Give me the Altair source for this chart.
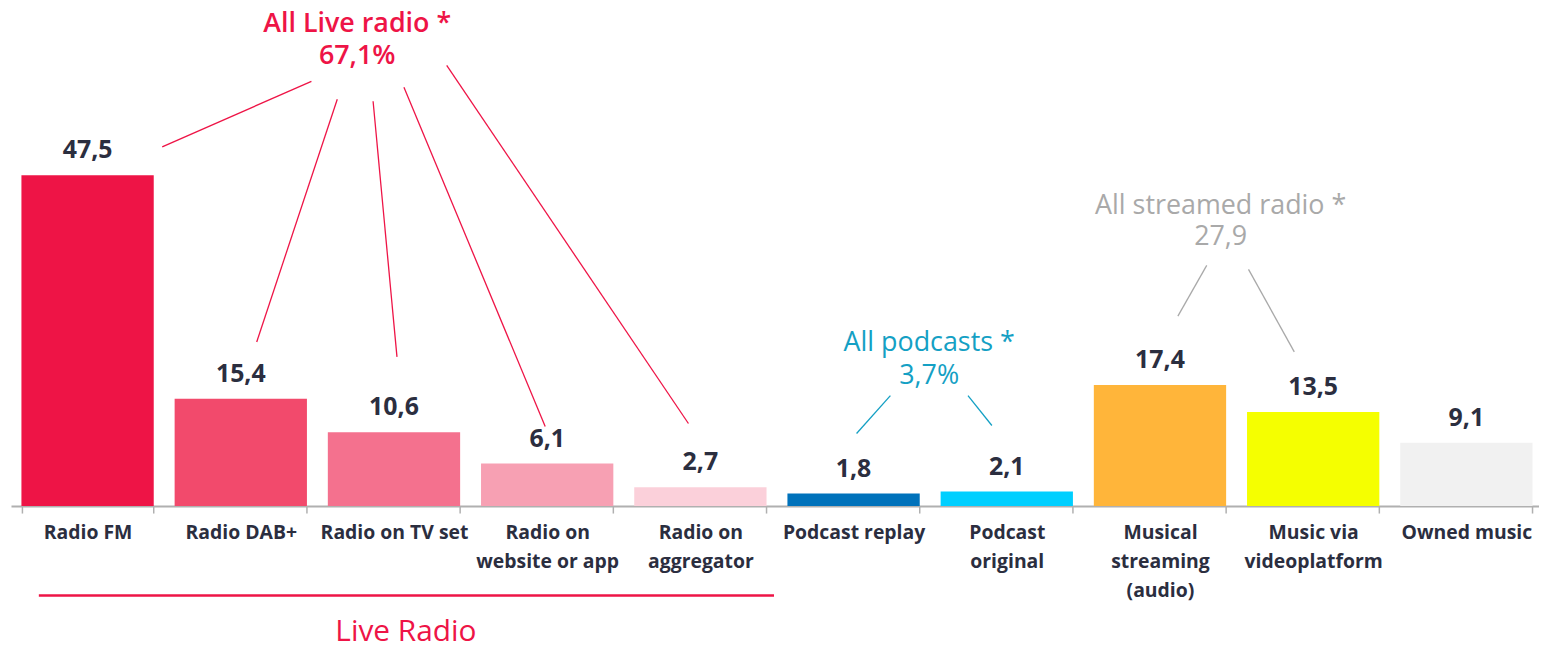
import altair as alt
import pandas as pd

# ---- data ----
categories = ["Radio FM", "Radio DAB+", "Radio on TV set", "Radio on|website or app",
              "Radio on|aggregator", "Podcast replay", "Podcast|original",
              "Musical|streaming|(audio)", "Music via|videoplatform", "Owned music"]
values = [47.5, 15.4, 10.6, 6.1, 2.7, 1.8, 2.1, 17.4, 13.5, 9.1]
bar_colors = ["#ee1446", "#f24a6c", "#f4718e", "#f7a0b3", "#fbd0da",
              "#0072bb", "#00cfff", "#ffb53a", "#f5ff00", "#f1f1f1"]

group_titles = ["All Live radio *", "All podcasts *", "All streamed radio *"]
group_totals = ["67,1%", "3,7%", "27,9"]
group_colors = ["#ee1446", "#14a0c4", "#a9a9a9"]
group_weights = [600, "normal", "normal"]
# layout of annotations (pixel positions in plot area)
title_pos = [(348, 13), (923, 334), (1216, 196)]
total_pos = [(348, 46), (923, 367), (1216, 228)]
leaders = [
    [(152, 129, 302, 63), (247, 325, 328, 81), (388, 340, 364, 83),
     (537, 410, 395, 69), (681, 407, 438, 47)],
    [(850, 417, 884, 379), (986, 409, 962, 379)],
    [(1173, 299, 1202, 248), (1290, 335, 1244, 252)],
]

FONT = "Open Sans"
TEXT_DARK = "#2b2e3f"

df = pd.DataFrame({"category": categories, "value": values})
df["label"] = [f"{v:.1f}".replace(".", ",") for v in values]

W, H = 1536, 490

band = alt.Scale(type="band", paddingInner=0.1364, paddingOuter=0.0682, round=False,
                 range=[0, 1540])
yscale = alt.Scale(domain=[0, 70], nice=False)

x_enc = alt.X("category:N", sort=categories, scale=band,
              axis=alt.Axis(title=None, labelAngle=0, labelExpr="split(datum.label, '|')",
                            labelFont=FONT, labelFontSize=19.5, labelFontWeight="bold",
                            labelColor=TEXT_DARK, labelLineHeight=29, labelPadding=11,
                            tickBand="extent", tickSize=7, tickColor="#b0b0b0",
                            tickWidth=1.5, domainColor="#b0b0b0", domainWidth=2,
                            labelLimit=200))
y_enc = alt.Y("value:Q", scale=yscale, axis=None)

bars = alt.Chart(df).mark_bar().encode(
    x=x_enc, y=y_enc,
    color=alt.Color("category:N", scale=alt.Scale(domain=categories, range=bar_colors), legend=None),
)
vals = alt.Chart(df).mark_text(font=FONT, fontSize=25, fontWeight="bold", color=TEXT_DARK,
                               baseline="alphabetic", dy=-17).encode(
    x=alt.X("category:N", sort=categories, scale=band, axis=None, bandPosition=0.5),
    y=alt.Y("value:Q", scale=yscale, axis=None),
    text="label:N")

layers = [bars, vals]

for i in range(3):
    tdf = pd.DataFrame({"t": [group_titles[i], group_totals[i]],
                        "x": [title_pos[i][0], total_pos[i][0]],
                        "y": [title_pos[i][1], total_pos[i][1]]})
    layers.append(alt.Chart(tdf).mark_text(font=FONT, fontSize=27, fontWeight=group_weights[i],
                                           color=group_colors[i], baseline="alphabetic").encode(
        x=alt.X("x:Q", scale=None), y=alt.Y("y:Q", scale=None), text="t:N"))
    ldf = pd.DataFrame(leaders[i], columns=["x", "y", "x2", "y2"])
    layers.append(alt.Chart(ldf).mark_rule(color=group_colors[i], strokeWidth=1.3).encode(
        x=alt.X("x:Q", scale=None), y=alt.Y("y:Q", scale=None),
        x2="x2:Q", y2="y2:Q"))

# Live Radio group bracket
gdf = pd.DataFrame({"x": [28], "x2": [767], "y": [580]})
layers.append(alt.Chart(gdf).mark_rule(color="#ee1446", strokeWidth=2.5).encode(
    x=alt.X("x:Q", scale=None), x2="x2:Q", y=alt.Y("y:Q", scale=None)))
gtdf = pd.DataFrame({"t": ["Live Radio"], "x": [397], "y": [626]})
layers.append(alt.Chart(gtdf).mark_text(font=FONT, fontSize=30, fontWeight=500,
                                        color="#ee1446", baseline="alphabetic").encode(
    x=alt.X("x:Q", scale=None), y=alt.Y("y:Q", scale=None), text="t:N"))

chart = alt.layer(*layers).resolve_scale(x="independent", y="independent").properties(
    width=W, height=H,
    autosize=alt.AutoSizeParams(type="none"),
    padding={"left": 3, "top": 9, "right": 0, "bottom": 145},
).configure_view(stroke=None)

chart.save("out.html", embed_options={"renderer": "svg", "actions": False})
